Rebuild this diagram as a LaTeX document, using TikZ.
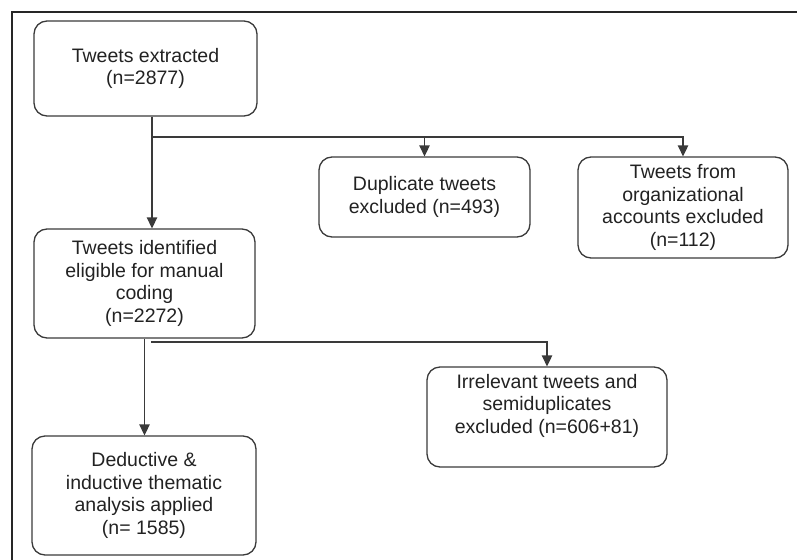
\documentclass[tikz,border=0pt]{standalone}
\usepackage{fontspec}
\setmainfont{Liberation Sans}
\usetikzlibrary{arrows.meta}
\definecolor{linec}{HTML}{3A3A3A}
\definecolor{textc}{HTML}{222222}
\begin{document}
\begin{tikzpicture}[x=1pt,y=-1pt,
  box/.style={draw=linec, line width=1.3pt, rounded corners=13pt, align=center,
    text=textc, font=\fontsize{19.5}{22.5}\selectfont, inner sep=0pt},
  arr/.style={draw=linec, line width=1.3pt, -{Triangle[width=10.5pt,length=11pt]}},
  ln/.style={draw=linec, line width=1.3pt}]
\useasboundingbox (0,0) rectangle (797,559);
\draw[line width=1.8pt, black!85] (12,562) -- (12,12) -- (800,12);

\node[box, minimum width=223pt, minimum height=95pt] (b1) at (145.5,68.5)
  {Tweets extracted\\(n=2877)};
\node[box, minimum width=221pt, minimum height=109pt] (b2) at (144.5,283.5)
  {Tweets identified\\eligible for manual\\coding\\(n=2272)};
\node[box, minimum width=224pt, minimum height=119pt] (b3) at (144,495.5)
  {Deductive \&\\inductive thematic\\analysis applied\\(n= 1585)};
\node[box, minimum width=211pt, minimum height=80pt] (dup) at (424.5,197)
  {Duplicate tweets\\excluded (n=493)};
\node[box, minimum width=210pt, minimum height=101pt] (org) at (683,207.5)
  {Tweets from\\organizational\\accounts excluded\\(n=112)};
\node[box, minimum width=240pt, minimum height=100pt] (irr) at (547,417)
  {Irrelevant tweets and\\semiduplicates\\excluded (n=606+81)\\[4pt]};

\coordinate (x1) at (152,0);
\coordinate (br1) at (152,137);
\coordinate (br2) at (151,342);

\draw[arr] (b1.south -| x1) -- (b2.north -| x1);
\draw[arr] (br1) -| (org.north);
\draw[arr] (br1 -| dup.north) -- (dup.north);
\draw[arr] (b2.south) -- (b2.south |- b3.north);
\draw[arr] (br2) -| (irr.north);
\end{tikzpicture}
\end{document}
